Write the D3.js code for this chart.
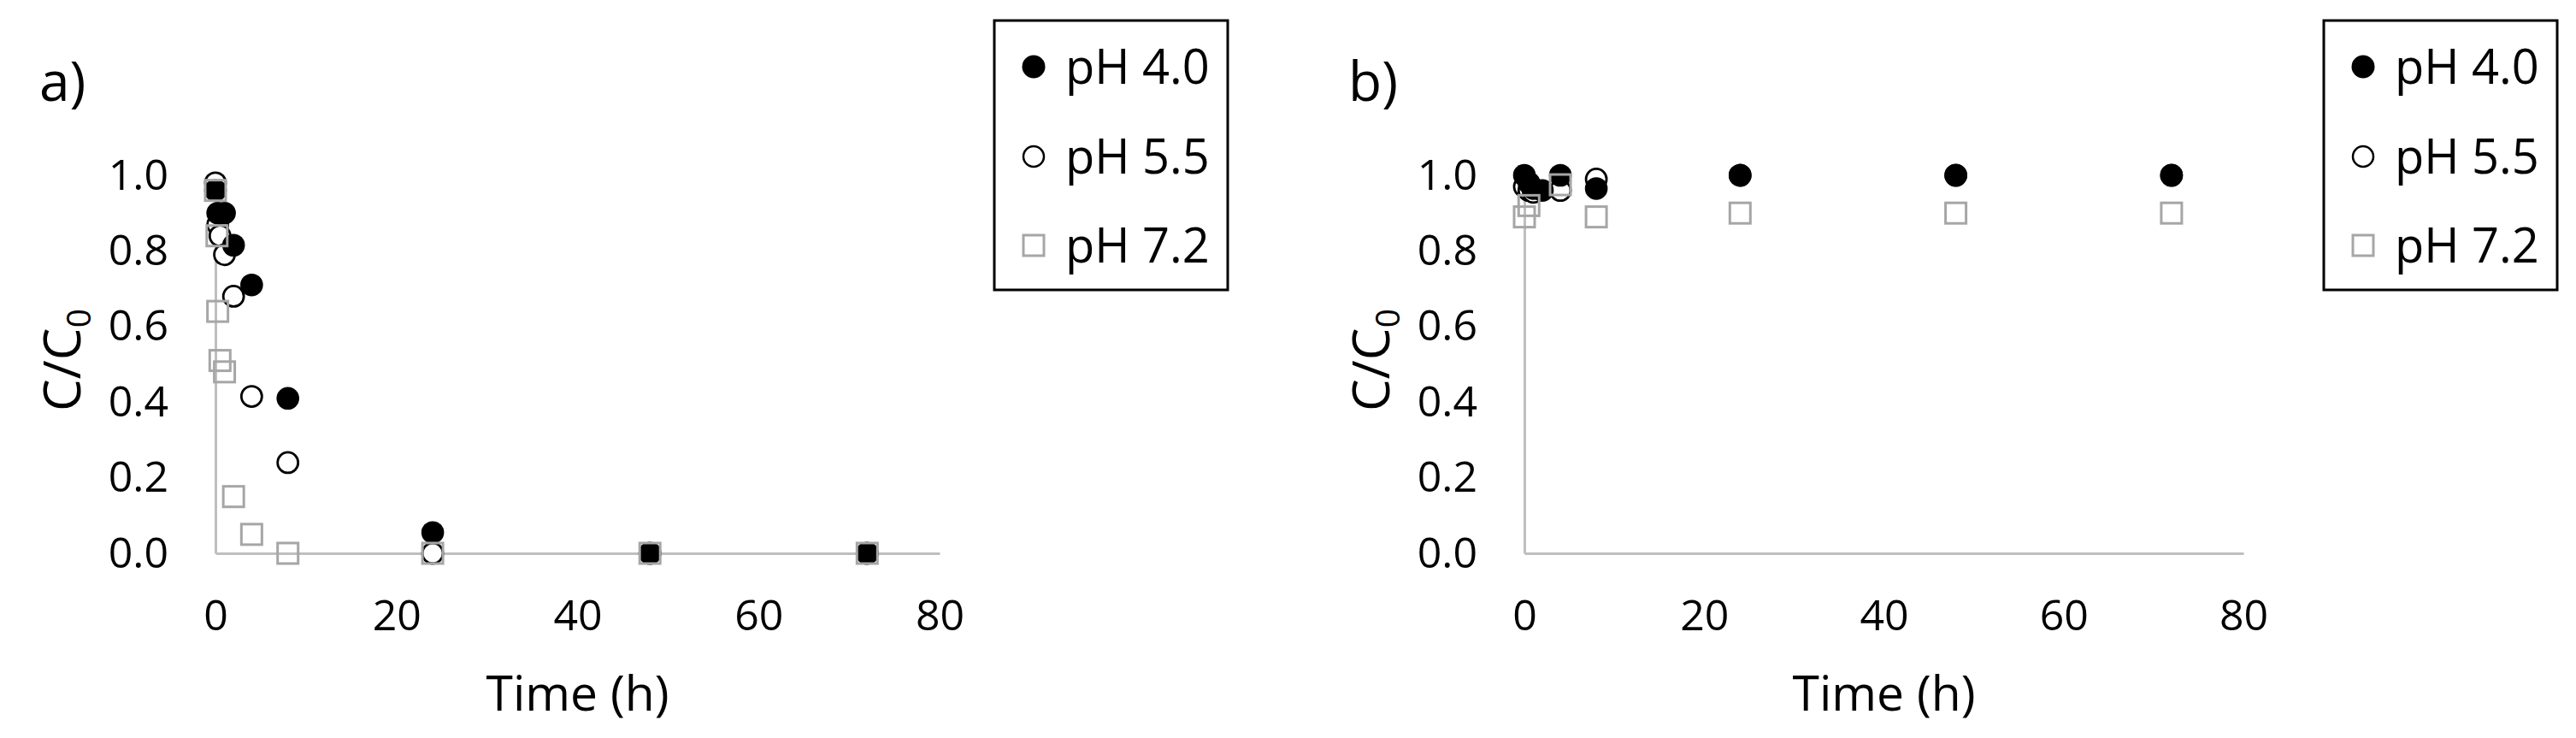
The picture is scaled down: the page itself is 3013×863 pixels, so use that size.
<!DOCTYPE html>
<meta charset="utf-8">
<html lang="en">
<head>
<title>C/C0 vs time</title>
<script src="https://d3js.org/d3.v7.min.js"></script>
<style>
  body { margin: 0; background: #fff; }
  svg text { font-family: "Open Sans", "Noto Sans", sans-serif; fill: #000; }
</style>
</head>
<body>
<svg id="chart" width="3013" height="863"></svg>
<script>
// ---- data ----
var seriesNames = ["pH 4.0", "pH 5.5", "pH 7.2"]
var xTicks = [0, 20, 40, 60, 80]
var yTicks = [0, 0.2, 0.4, 0.6, 0.8, 1.0]

// panel a
var aTime40 = [0, 0.25, 1, 2, 4, 8, 24, 48, 72]
var aConc40 = [0.96, 0.90, 0.90, 0.815, 0.71, 0.41, 0.055, 0, 0]
var aTime55 = [0, 0.25, 0.5, 1, 2, 4, 8, 24, 48, 72]
var aConc55 = [0.98, 0.87, 0.84, 0.79, 0.68, 0.415, 0.24, 0, 0, 0]
var aTime72 = [0, 0.17, 0.25, 0.5, 1, 2, 4, 8, 24, 48, 72]
var aConc72 = [0.96, 0.84, 0.64, 0.51, 0.48, 0.15, 0.05, 0, 0, 0, 0]

// panel b
var bTime40 = [0, 0.5, 1, 2, 4, 8, 24, 48, 72]
var bConc40 = [1.0, 0.98, 0.965, 0.96, 1.0, 0.965, 1.0, 1.0, 1.0]
var bTime55 = [0, 0.5, 1, 4, 8, 24, 48, 72]
var bConc55 = [0.97, 0.96, 0.955, 0.96, 0.99, 1.0, 1.0, 1.0]
var bTime72 = [0, 0.5, 4, 8, 24, 48, 72]
var bConc72 = [0.89, 0.92, 0.975, 0.89, 0.90, 0.90, 0.90]

function zip(ts, cs) {
  return ts.map(function (t, i) { return { t: t, c: cs[i] } })
}

var panels = [
  { label: "a)", left: 252, right: 1099, legendX: 1163,
    s40: zip(aTime40, aConc40), s55: zip(aTime55, aConc55), s72: zip(aTime72, aConc72) },
  { label: "b)", left: 1783, right: 2624, legendX: 2718,
    s40: zip(bTime40, bConc40), s55: zip(bTime55, bConc55), s72: zip(bTime72, bConc72) }
]

// note: "top" is taken by window.top, so use other names
var plotTop = 205, plotBottom = 647
var axisColor = "#bfbfbf"
var squareColor = "#a6a6a6"
var svg = d3.select("#chart")
svg.append("rect").attr("width", 3013).attr("height", 863).attr("fill", "#fff")

panels.forEach(function (p) {
  var x = d3.scaleLinear().domain([0, 80]).range([p.left, p.right])
  var y = d3.scaleLinear().domain([0, 1]).range([plotBottom, plotTop])
  var g = svg.append("g")

  // axes (no tick marks, light grey lines)
  var xAxis = g.append("g").attr("transform", "translate(0," + plotBottom + ")")
    .call(d3.axisBottom(x).tickValues(xTicks).tickSize(0).tickPadding(54).tickFormat(d3.format("d")))
  var yAxis = g.append("g").attr("transform", "translate(" + p.left + ",0)")
    .call(d3.axisLeft(y).tickValues(yTicks).tickSize(0).tickPadding(55).tickFormat(d3.format(".1f")))
  ;[xAxis, yAxis].forEach(function (ax) {
    ax.select(".domain").attr("stroke", axisColor).attr("stroke-width", 3)
    ax.selectAll("text").attr("font-size", 50).attr("font-family", "'Open Sans', sans-serif").attr("fill", "#000")
  })
  xAxis.selectAll("text").attr("dy", "0.71em")

  // axis titles
  g.append("text")
    .attr("x", (p.left + p.right) / 2).attr("y", 831)
    .attr("text-anchor", "middle").attr("font-size", 57)
    .text("Time (h)")
  var yt = g.append("text")
    .attr("transform", "translate(" + (p.left - 158) + ",421) rotate(-90)")
    .attr("text-anchor", "middle").attr("font-size", 60)
  yt.append("tspan").text("C/C")
  yt.append("tspan").attr("font-size", 39).attr("dy", 12).text("0")

  // panel label
  g.append("text").attr("x", p.left - 206).attr("y", 118).attr("font-size", 64).text(p.label)

  // markers: pH 5.5 under pH 4.0, squares on top
  g.append("g").selectAll("circle").data(p.s55).enter().append("circle")
    .attr("cx", function (d) { return x(d.t) })
    .attr("cy", function (d) { return y(d.c) })
    .attr("r", 12).attr("fill", "#fff").attr("stroke", "#000").attr("stroke-width", 2.8)
  g.append("g").selectAll("circle").data(p.s40).enter().append("circle")
    .attr("cx", function (d) { return x(d.t) })
    .attr("cy", function (d) { return y(d.c) })
    .attr("r", 13.3).attr("fill", "#000")
  g.append("g").selectAll("rect").data(p.s72).enter().append("rect")
    .attr("x", function (d) { return x(d.t) - 12 })
    .attr("y", function (d) { return y(d.c) - 12 })
    .attr("width", 24).attr("height", 24)
    .attr("fill", "none").attr("stroke", squareColor).attr("stroke-width", 3)

  // legend
  var lg = g.append("g").attr("transform", "translate(" + p.legendX + ",24)")
  lg.append("rect").attr("width", 273).attr("height", 315)
    .attr("fill", "#fff").attr("stroke", "#000").attr("stroke-width", 3)
  var rowY = [54, 159, 263]
  seriesNames.forEach(function (name, i) {
    var row = lg.append("g").attr("transform", "translate(46," + rowY[i] + ")")
    if (i === 0) row.append("circle").attr("r", 13.5).attr("fill", "#000")
    if (i === 1) row.append("circle").attr("r", 12).attr("fill", "#fff").attr("stroke", "#000").attr("stroke-width", 2.5)
    if (i === 2) row.append("rect").attr("x", -12).attr("y", -12).attr("width", 24).attr("height", 24)
      .attr("fill", "none").attr("stroke", squareColor).attr("stroke-width", 3)
    row.append("text").attr("x", 37).attr("y", 20).attr("font-size", 56).text(name)
  })
})
</script>
</body>
</html>
